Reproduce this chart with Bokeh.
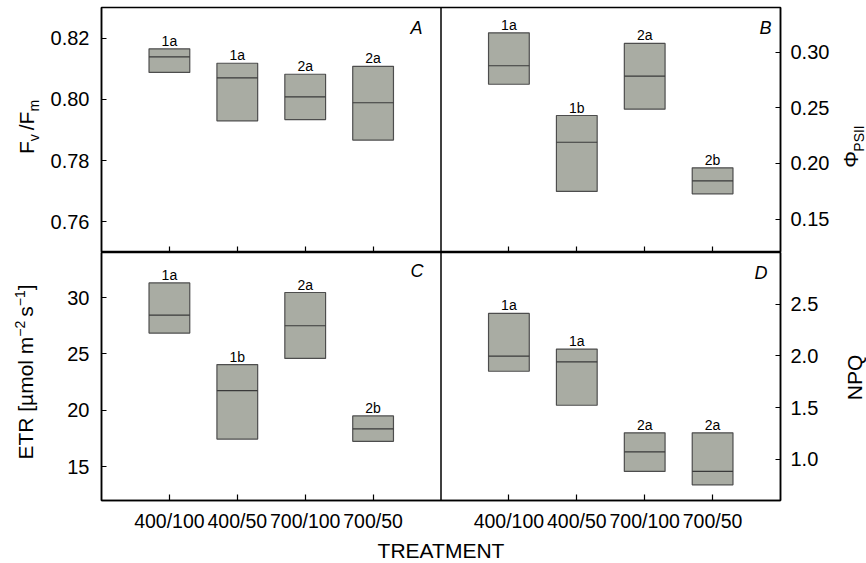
import math
from bokeh.plotting import figure
from bokeh.models import Range1d, LinearAxis, Span, Label, FixedTicker, PrintfTickFormatter
from bokeh.layouts import column, row
from bokeh.embed import file_html
from bokeh.resources import INLINE
from bokeh.core.properties import value

# ---------------- data ----------------
treatments = ["400/100", "400/50", "700/100", "700/50"]

fvfm_q1 = [0.8088, 0.7930, 0.7934, 0.7867]
fvfm_med = [0.8139, 0.8070, 0.8008, 0.7989]
fvfm_q3 = [0.8165, 0.8118, 0.8082, 0.8108]
fvfm_letters = ["1a", "1a", "2a", "2a"]

phi_q1 = [0.2711, 0.1748, 0.2487, 0.1727]
phi_med = [0.2877, 0.2190, 0.2783, 0.1844]
phi_q3 = [0.3173, 0.2430, 0.3077, 0.1960]
phi_letters = ["1a", "1b", "2a", "2b"]

etr_q1 = [26.85, 17.45, 24.60, 17.25]
etr_med = [28.45, 21.75, 27.50, 18.35]
etr_q3 = [31.30, 24.06, 30.45, 19.50]
etr_letters = ["1a", "1b", "2a", "2b"]

npq_q1 = [1.851, 1.522, 0.881, 0.752]
npq_med = [1.997, 1.942, 1.071, 0.881]
npq_q3 = [2.410, 2.065, 1.255, 1.255]
npq_letters = ["1a", "1a", "2a", "2a"]

fvfm_ticks = [0.76, 0.78, 0.80, 0.82]
phi_ticks = [0.15, 0.20, 0.25, 0.30]
etr_ticks = [15, 20, 25, 30]
npq_ticks = [1.0, 1.5, 2.0, 2.5]

# ---------------- style ----------------
FONT = "Liberation Sans"
BOX_FILL = "#a9aca3"
BOX_LINE = "#4d4d4d"
BOX_W = 0.6
left_pos = [i + 1 for i in range(len(treatments))]
right_pos = [i + 6 for i in range(len(treatments))]

CW = {"F": .611, "v": .5, "/": .278, "m": .833, "E": .667, "T": .611, "R": .722,
      " ": .278, "[": .278, "µ": .576, "o": .556, "l": .222, "s": .5, "]": .278,
      "−": .584, "2": .556, "1": .556, "Φ": .764, "P": .667, "S": .667, "I": .278,
      "N": .722, "Q": .778}


def tlen(s, size):
    return sum(CW.get(c, 0.556) for c in s) * size


def vlabel(p, pieces, center_y):
    # pieces: (text, font size, anchor x, gap after); text reads bottom-to-top
    total = sum(tlen(t, s) + g for t, s, ax, g in pieces)
    y = center_y + total / 2
    for t, s, ax, g in pieces:
        p.add_layout(Label(x=ax, y=y, text=t, angle=math.pi / 2,
                           text_align="left", text_baseline="middle",
                           text_font=FONT, text_font_size=f"{s}px", text_color="black"))
        y -= tlen(t, s) + g


def label_fig(x0, x1, h):
    p = figure(frame_width=x1 - x0, frame_height=h, x_range=Range1d(x0, x1),
               y_range=Range1d(h, 0), x_axis_type=None, y_axis_type=None,
               output_backend="svg", toolbar_location=None, min_border=0,
               background_fill_color="white", border_fill_color="white")
    p.outline_line_color = None
    return p


def style_axis(ax, size="20px", standoff=12):
    ax.axis_line_color = "black"
    ax.axis_line_width = 1.5
    ax.major_tick_line_color = "black"
    ax.major_tick_line_width = 1.2
    ax.major_tick_in = 5
    ax.major_tick_out = 0
    ax.minor_tick_line_color = None
    ax.major_label_text_font = FONT
    ax.major_label_text_font_size = size
    ax.major_label_text_color = "black"
    ax.major_label_standoff = standoff


def make_fig(yr, ryr, fh, bb, bt):
    p = figure(frame_width=679, frame_height=fh, x_range=Range1d(0, 10),
               y_range=Range1d(*yr), output_backend="svg", toolbar_location=None,
               min_border_left=59, min_border_right=52, min_border_top=bt,
               min_border_bottom=bb, background_fill_color="white",
               border_fill_color="white")
    p.extra_y_ranges = {"r": Range1d(*ryr)}
    p.xgrid.grid_line_color = None
    p.ygrid.grid_line_color = None
    p.outline_line_color = "black"
    p.outline_line_width = 1.5
    p.add_layout(Span(location=5, dimension="height", line_color="black", line_width=1.5))
    return p


def boxes(p, pos, q1, med, q3, letters, rname="default"):
    p.vbar(x=pos, width=BOX_W, bottom=q1, top=q3, fill_color=BOX_FILL,
           line_color=BOX_LINE, line_width=1.2, y_range_name=rname)
    p.segment(x0=[x - BOX_W / 2 for x in pos], x1=[x + BOX_W / 2 for x in pos],
              y0=med, y1=med, line_color="#3a3a3a", line_width=1.2, y_range_name=rname)
    p.text(x=pos, y=q3, text=letters, text_align="center", text_baseline="bottom",
           text_font=value(FONT), text_font_size="14px",
           text_color="black", y_range_name=rname)


def panel_letter(p, t, x, y):
    p.add_layout(Label(x=x, y=y, x_units="screen", y_units="screen", text=t,
                       text_align="right", text_baseline="middle", text_font=FONT,
                       text_font_style="italic", text_font_size="18px",
                       text_color="black"))


xticker = FixedTicker(ticks=left_pos + right_pos)

# ---------------- top row (A, B) ----------------
p1 = make_fig((0.75, 0.83), (0.12, 0.34), 245, 0, 7)
style_axis(p1.yaxis[0])
p1.yaxis[0].ticker = FixedTicker(ticks=fvfm_ticks)
p1.yaxis[0].formatter = PrintfTickFormatter(format="%.2f")
rax1 = LinearAxis(y_range_name="r", ticker=FixedTicker(ticks=phi_ticks),
                  formatter=PrintfTickFormatter(format="%.2f"))
style_axis(rax1, standoff=10)
p1.add_layout(rax1, "right")
xa1 = p1.xaxis[0]
style_axis(xa1, size="0px", standoff=0)
xa1.ticker = xticker
xa1.major_tick_in = 6
xa1.major_label_overrides = {t: "" for t in left_pos + right_pos}

boxes(p1, left_pos, fvfm_q1, fvfm_med, fvfm_q3, fvfm_letters)
boxes(p1, right_pos, phi_q1, phi_med, phi_q3, phi_letters, "r")
panel_letter(p1, "A", 321, 224.5)
panel_letter(p1, "B", 670, 225)

# ---------------- bottom row (C, D) ----------------
p2 = make_fig((12, 34), (0.6, 3.0), 248, 63, 0)
style_axis(p2.yaxis[0])
p2.yaxis[0].ticker = FixedTicker(ticks=etr_ticks)
p2.yaxis[0].formatter = PrintfTickFormatter(format="%d")
rax2 = LinearAxis(y_range_name="r", ticker=FixedTicker(ticks=npq_ticks),
                  formatter=PrintfTickFormatter(format="%.1f"))
style_axis(rax2, standoff=10)
p2.add_layout(rax2, "right")
xa2 = p2.xaxis[0]
style_axis(xa2, size="19.5px", standoff=9)
xa2.ticker = xticker
xa2.major_tick_in = 6
overrides = {}
for i, t in enumerate(treatments):
    overrides[left_pos[i]] = t
    overrides[right_pos[i]] = t
xa2.major_label_overrides = overrides
xa2.axis_label = "TREATMENT"
xa2.axis_label_text_font = FONT
xa2.axis_label_text_font_size = "21px"
xa2.axis_label_text_font_style = "normal"
xa2.axis_label_text_color = "black"
xa2.axis_label_standoff = 4

boxes(p2, left_pos, etr_q1, etr_med, etr_q3, etr_letters)
boxes(p2, right_pos, npq_q1, npq_med, npq_q3, npq_letters, "r")
panel_letter(p2, "C", 322, 230)
panel_letter(p2, "D", 666, 228)

# ---------------- side label strips ----------------
TOTAL_H = 563
lf = label_fig(0, 42, TOTAL_H)
vlabel(lf, [("F", 21, 26, 0), ("v", 14, 33, 4), ("/F", 21, 26, 0), ("m", 14, 33, 0)], 126.5)
vlabel(lf, [("ETR [µmol m", 21, 25, 0), ("−2", 14, 19.5, 4), ("s", 21, 25, 0),
            ("−1", 14, 19.5, 0), ("]", 21, 25, 0)], 371.5)

rf = label_fig(832, 866, TOTAL_H)
vlabel(rf, [("Φ", 21, 850, 0), ("PSII", 14, 858, 0)], 146)
vlabel(rf, [("NPQ", 21, 854, 0)], 377)

layout = row(lf, column(p1, p2, spacing=0), rf, spacing=0)
open("out.html", "w").write(file_html(layout, INLINE))
